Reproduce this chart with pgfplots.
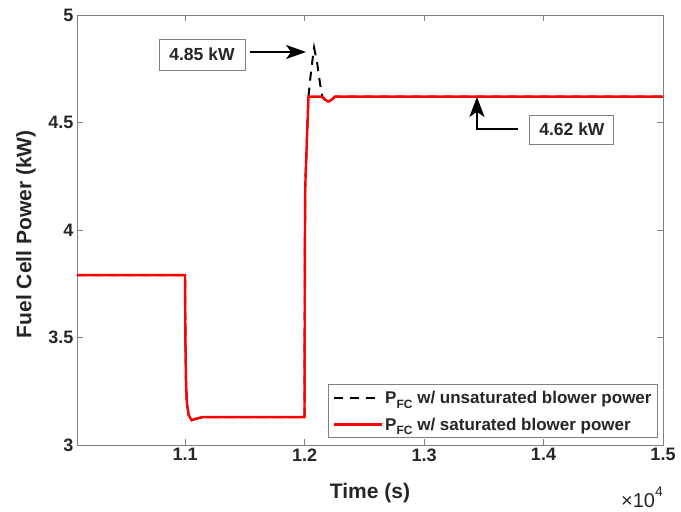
\documentclass[border=0pt]{standalone}
\usepackage{pgfplots}
\pgfplotsset{compat=1.18}
\usepackage{fontspec}
\setmainfont{Liberation Sans}
\usetikzlibrary{arrows.meta}
\definecolor{axgray}{gray}{0.5}
\definecolor{txtgray}{gray}{0.15}
\newcommand{\sub}[1]{\raisebox{-0.55ex}{\fontsize{12}{12}\selectfont #1}}
\begin{document}
\begin{tikzpicture}
\begin{axis}[
  name=ax,
  scale only axis, width=586pt, height=430pt,
  xmin=10096, xmax=15000, ymin=3, ymax=5,
  xtick={11000,12000,13000,14000,15000},
  xticklabels={1.1,1.2,1.3,1.4,1.5},
  ytick={3,3.5,4,4.5,5},
  yticklabels={3,3.5,4,4.5,5},
  scaled x ticks=false,
  xtick pos=both, ytick pos=both,
  tick align=inside,
  major tick length=6pt,
  axis line style={draw=axgray, line width=0.9pt},
  tick style={draw=axgray, line width=0.9pt},
  ticklabel style={font=\fontsize{18}{20}\selectfont\bfseries, text=txtgray},
  xlabel={Time (s)},
  ylabel={Fuel Cell Power (kW)},
  xlabel style={at={(axis description cs:0.5,-0.112)}, anchor=center, font=\fontsize{21}{24}\selectfont\bfseries, text=txtgray},
  ylabel style={at={(axis description cs:-0.087,0.49)}, anchor=center, font=\fontsize{21}{24}\selectfont\bfseries, text=txtgray},
  legend style={at={(rel axis cs:1,0)}, xshift=-5pt, yshift=7pt, anchor=south east,
    draw=axgray, line width=0.9pt, font=\fontsize{17}{19}\selectfont\bfseries, text=txtgray,
    inner sep=4pt, row sep=9pt},
  legend cell align=left,
  legend image code/.code={\draw[#1] (0pt,0pt) -- (48pt,0pt);},
]
\addplot[black, line width=2pt, dash pattern=on 9pt off 7pt] coordinates {
(10096,3.79) (11000,3.79) (11003,3.5) (11008,3.3) (11015,3.2) (11030,3.14)
(11055,3.115) (11090,3.122) (11150,3.13) (11300,3.13) (12000,3.13)
(12003,3.9) (12006,4.2) (12033,4.62) (12055,4.74) (12080,4.848) (12105,4.78)
(12130,4.68) (12150,4.62) (12175,4.605) (12200,4.597) (12225,4.605) (12255,4.62) (15000,4.62)
};
\addlegendentry{P\sub{FC} w/ unsaturated blower power}
\addplot[red, line width=2.4pt] coordinates {
(10096,3.79) (11000,3.79) (11003,3.5) (11008,3.3) (11015,3.2) (11030,3.14)
(11055,3.115) (11090,3.122) (11150,3.13) (11300,3.13) (12000,3.13)
(12003,3.9) (12006,4.2) (12033,4.62) (12145,4.62) (12175,4.605) (12200,4.597)
(12225,4.605) (12255,4.62) (15000,4.62)
};
\addlegendentry{P\sub{FC} w/ saturated blower power}
\node[draw=axgray, line width=0.9pt, fill=white, minimum width=86pt, minimum height=31pt,
  font=\fontsize{17.5}{20}\selectfont\bfseries, text=txtgray, inner sep=0pt]
  at (axis cs:11142,4.816) {4.85 kW};
\draw[line width=2pt, -{Stealth[length=20pt,width=14pt,inset=5pt]}]
  (axis cs:11544,4.828) -- (axis cs:12013,4.828);
\node[draw=axgray, line width=0.9pt, fill=white, minimum width=84pt, minimum height=29pt,
  font=\fontsize{17.5}{20}\selectfont\bfseries, text=txtgray, inner sep=0pt]
  at (axis cs:14238,4.467) {4.62 kW};
\draw[line width=2pt, -{Stealth[length=20pt,width=15pt,inset=5pt]}]
  (axis cs:13787,4.470) -- (axis cs:13443,4.470) -- (axis cs:13443,4.619);
\end{axis}
\node[font=\fontsize{20}{22}\selectfont, text=txtgray] at (565pt,-52pt) {×10\raisebox{1.0ex}{\fontsize{14}{14}\selectfont 4}};
\pgfresetboundingbox
\path (-77pt,-67pt) rectangle (604pt,445pt);
\end{tikzpicture}
\end{document}
